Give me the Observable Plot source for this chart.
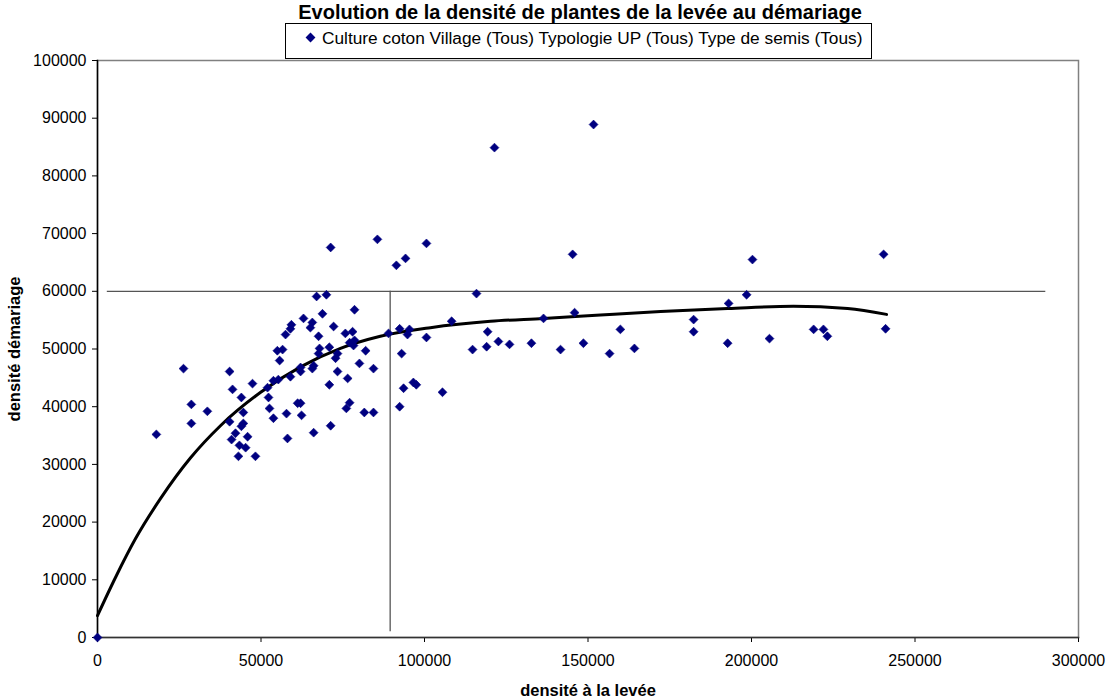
<!DOCTYPE html>
<html>
<head>
<meta charset="utf-8">
<script src="https://cdn.jsdelivr.net/npm/d3@7"></script>
<script src="https://cdn.jsdelivr.net/npm/@observablehq/plot@0.6"></script>
<style>
  html, body { margin: 0; padding: 0; background: #fff; }
  #wrap { position: relative; width: 1108px; height: 699px; font-family: "Liberation Sans", Arial, sans-serif; }
  #title { position: absolute; left: 0; width: 1160px; top: 1px; text-align: center; font-weight: bold; font-size: 20px; line-height: 23px; color: #000; }
  #legend { position: absolute; left: 285px; top: 23px; width: 587px; height: 36px; border: 1px solid #000; box-sizing: border-box; background: #fff; font-size: 17.3px; line-height: 20px; }
  #legend .sym { position: absolute; left: 21px; top: 10px; width: 7px; height: 7px; background: #000080; transform: rotate(45deg); }
  #legend .lab { position: absolute; left: 36px; top: 4px; white-space: nowrap; }
</style>
</head>
<body>
<div id="wrap">
  <div id="chart"></div>
  <div id="title"></div>
  <div id="legend"><div class="sym"></div><div class="lab"></div></div>
</div>
<script>
// ---- Data ----
const chartTitle = "Evolution de la densité de plantes de la levée au démariage";
const seriesName = "Culture coton Village (Tous) Typologie UP (Tous) Type de semis (Tous)";
const xLabel = "densité à la levée";
const yLabel = "densité démariage";

const xTicks = [0, 50000, 100000, 150000, 200000, 250000, 300000];
const yTicks = [0, 10000, 20000, 30000, 40000, 50000, 60000, 70000, 80000, 90000, 100000];

// densité à la levée (x) and densité démariage (y)
const levee = [
  0, 18000, 26300, 28700, 28700, 33600, 40400, 41300, 40400, 44000,
  44600, 44600, 44000, 42200, 41000, 45900, 43400, 45300, 43100, 48300,
  47400, 52000, 52300, 52600, 53800, 53800, 55300, 55000, 56600, 55700,
  57500, 59000, 59300, 57800, 58100, 59000, 61200, 62100, 62400, 62100,
  62100, 63000, 65100, 65700, 66100, 65700, 67000, 70000, 68800, 67600,
  67900, 67600, 66100, 70900, 70900, 71300, 71300, 72200, 73400, 72800,
  73400, 75800, 78000, 78600, 77100, 78300, 76500, 77100, 76100, 78600,
  80100, 82000, 84400, 81600, 84400, 85600, 89000, 91400, 94200, 92400,
  95400, 94800, 93000, 92400, 93600, 96600, 97500, 100600, 100600, 105500,
  108300, 115900, 114700, 119000, 119300, 122600, 126000, 121400, 132700, 136400,
  141600, 145300, 145900, 148600, 151700, 156600, 159900, 164200, 182300, 182300,
  192700, 193000, 198500, 200300, 205500, 219000, 222000, 223200, 240400, 241000
];
const demariage = [
  0, 35200, 46600, 40400, 37100, 39200, 46100, 43000, 37400, 41600,
  39000, 37100, 36600, 35400, 34300, 34800, 33300, 32900, 31400, 31400,
  44000, 43300, 41600, 39700, 38000, 44500, 44700, 49700, 49900, 48000,
  52500, 53500, 54200, 38800, 34500, 45200, 40600, 40600, 38500, 46800,
  46100, 55300, 53700, 54600, 47100, 46600, 59100, 59400, 56100, 52200,
  50100, 49200, 35500, 50300, 43800, 36700, 67600, 53900, 49200, 48400,
  46100, 52700, 53000, 51500, 51100, 50600, 44900, 40700, 39700, 56800,
  47500, 49700, 46600, 39000, 39000, 69000, 52700, 64500, 65700, 53500,
  53400, 52500, 49200, 40000, 43200, 44200, 43800, 68300, 52000, 42500,
  54800, 59600, 49900, 50400, 53000, 51300, 50800, 84900, 51000, 55300,
  49900, 66400, 56300, 51000, 88900, 49200, 53400, 50100, 55100, 53000,
  51000, 57900, 59400, 65500, 51800, 53400, 53400, 52200, 66400, 53500
];

// Trend curve
const trendX = [0, 5500, 11600, 19300, 28400, 37600, 49900, 62100, 74300, 86500, 101800, 120200, 136400, 153800, 172200, 192700, 212800, 229400, 241300];
const trendY = [3800, 10400, 17100, 24100, 31100, 36700, 42500, 46900, 50100, 52200, 53700, 54800, 55300, 55900, 56500, 57000, 57400, 57000, 56000];

// Reference cross lines
const hLineY = 60000, hLineX1 = 3000, hLineX2 = 290000;
const vLineX = 89500, vLineY1 = 1000, vLineY2 = 60000;

// ---- Build ----
const points = levee.map((x, i) => ({x, y: demariage[i]}));
const trend = trendX.map((x, i) => ({x, y: trendY[i]}));

document.getElementById("title").textContent = chartTitle;
document.querySelector("#legend .lab").textContent = seriesName;

const chart = Plot.plot({
  width: 1108,
  height: 699,
  marginLeft: 97,
  marginRight: 30,
  marginTop: 60,
  marginBottom: 62,
  style: {fontFamily: "'Liberation Sans', Arial, sans-serif", fontSize: "16px", color: "#000", background: "#fff"},
  x: {domain: [0, 300000], ticks: xTicks, tickFormat: d => String(d)},
  y: {domain: [0, 100000], ticks: yTicks, tickFormat: d => String(d)},
  marks: [
    Plot.frame({stroke: "#808080", strokeWidth: 1.5}),
    Plot.ruleY([hLineY], {x1: hLineX1, x2: hLineX2, stroke: "#555", strokeWidth: 1.3}),
    Plot.ruleX([vLineX], {y1: vLineY1, y2: vLineY2, stroke: "#555", strokeWidth: 1.3}),
    Plot.axisX({ticks: xTicks, tickFormat: d => String(d), tickSize: 5, tickPadding: 12, label: null, stroke: "#000"}),
    Plot.axisY({ticks: yTicks, tickFormat: d => String(d), tickSize: 5, tickPadding: 6, label: null, stroke: "#000"}),
    Plot.frame({anchor: "bottom", stroke: "#333", strokeWidth: 1.5}),
    Plot.frame({anchor: "left", stroke: "#000", strokeWidth: 1.5}),
    Plot.line(trend, {x: "x", y: "y", stroke: "#000", strokeWidth: 3, curve: "monotone-x"}),
    Plot.dot(points, {x: "x", y: "y", symbol: "diamond2", r: 4, fill: "#000080", stroke: "#000080", strokeWidth: 0.6, clip: false}),
    Plot.text([xLabel], {frameAnchor: "bottom", dy: 53, lineAnchor: "middle", textAnchor: "middle", fontWeight: "bold", fontSize: 16.5}),
    Plot.text([yLabel], {frameAnchor: "left", dx: -83, rotate: -90, lineAnchor: "middle", textAnchor: "middle", fontWeight: "bold", fontSize: 16.5})
  ]
});
document.getElementById("chart").appendChild(chart);
</script>
</body>
</html>
